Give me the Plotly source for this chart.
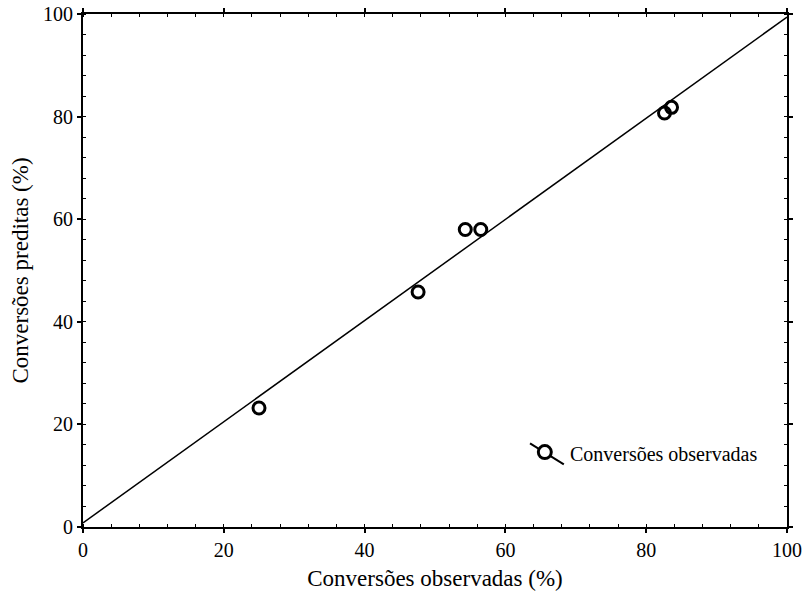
import plotly.graph_objects as go

# Observed vs predicted conversions (%)
observed = [25.0, 47.6, 54.3, 56.5, 82.6, 83.6]
predicted = [23.2, 45.8, 58.0, 58.0, 80.7, 81.8]

# Fitted line end points
fit_x = [0, 100]
fit_y = [0.8, 99.4]

tick_vals = [0, 20, 40, 60, 80, 100]
tick_text = ["0", "20", "40", "60", "80", "100"]

FONT = "Liberation Serif, Times New Roman, serif"

fig = go.Figure()
fig.add_trace(go.Scatter(
    x=fit_x, y=fit_y, mode="lines",
    line=dict(color="black", width=1.5), showlegend=False, hoverinfo="skip"))
fig.add_trace(go.Scatter(
    x=observed, y=predicted, mode="markers", name="Conversões observadas",
    marker=dict(symbol="circle-open", size=12, color="black", line=dict(width=3)),
    showlegend=False))

axis_common = dict(
    range=[0, 100], tickvals=tick_vals, ticktext=tick_text, automargin=False,
    showgrid=False, zeroline=False, showline=True, linecolor="black",
    linewidth=2, mirror="ticks", ticks="outside", ticklen=4, tickwidth=1.5,
    tickcolor="black", tickfont=dict(family=FONT, size=20, color="black"),
    minor=dict(dtick=4, ticks="inside", ticklen=3, tickwidth=1, tickcolor="black"),
)

fig.update_xaxes(**axis_common,
                 title=dict(text="Conversões observadas (%)",
                            font=dict(family=FONT, size=23, color="black"),
                            standoff=10))
fig.update_yaxes(**axis_common,
                 title=dict(text="Conversões preditas (%)",
                            font=dict(family=FONT, size=23, color="black"),
                            standoff=8))

# Hand-drawn legend entry: diagonal line through an open circle, plus label
fig.add_shape(type="line", xref="x", yref="y",
              x0=63.5, y0=16.3, x1=68.3, y1=12.2,
              line=dict(color="black", width=2))
fig.add_shape(type="circle", xref="x", yref="y", xsizemode="pixel", ysizemode="pixel",
              xanchor=65.6, yanchor=14.6, x0=-6.5, x1=6.5, y0=-6.5, y1=6.5,
              line=dict(color="black", width=3), fillcolor="white")
fig.add_annotation(x=68.9, y=14.2, xref="x", yref="y", text="Conversões observadas",
                   showarrow=False, xanchor="left", yanchor="middle",
                   font=dict(family=FONT, size=20, color="black"))

fig.update_layout(
    width=806, height=600,
    margin=dict(l=83, r=19, t=14, b=73),
    paper_bgcolor="white", plot_bgcolor="white",
    font=dict(family=FONT, color="black"),
)

fig.write_html("out.html")
